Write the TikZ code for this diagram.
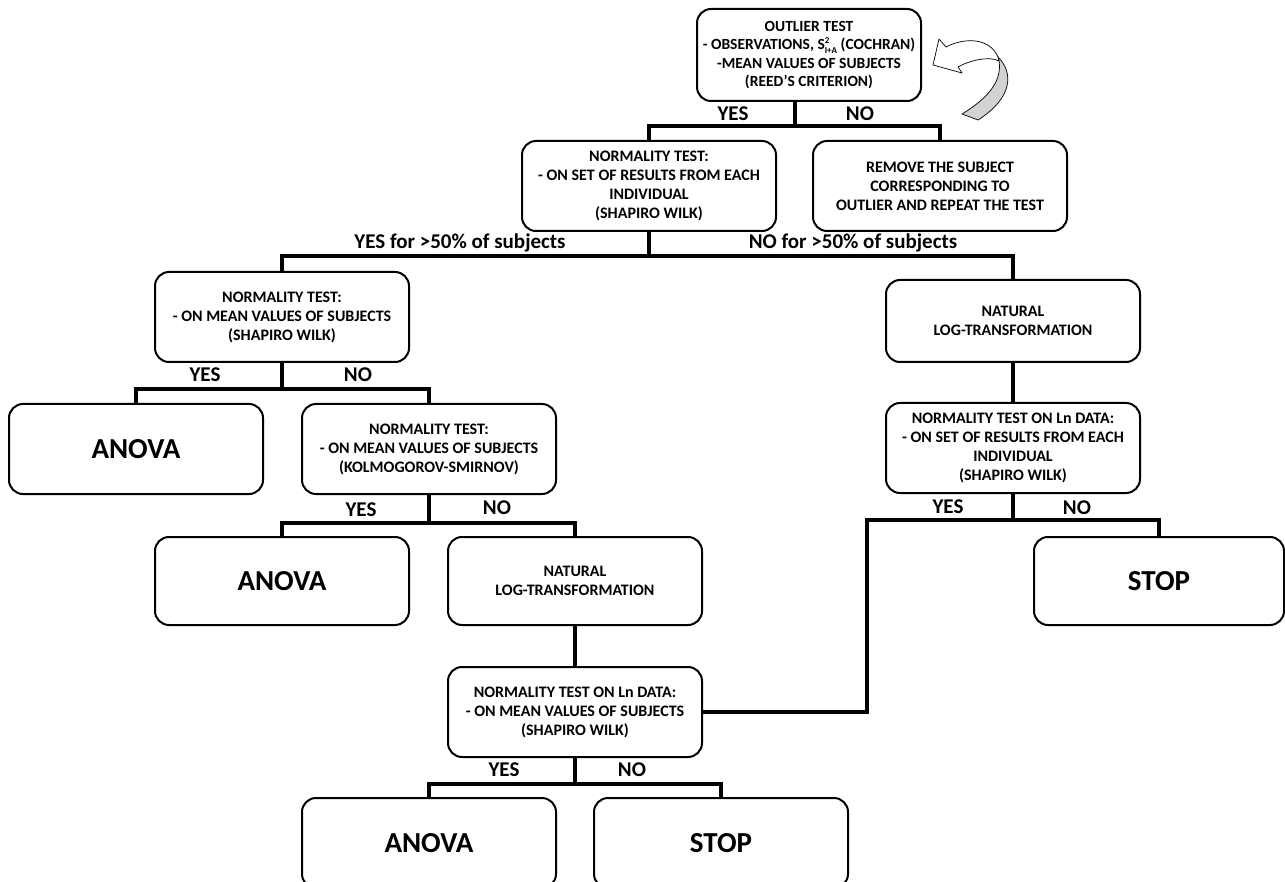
\documentclass[tikz,border=0pt]{standalone}
\usepackage{fontspec}
\setmainfont{Carlito}
\begin{document}
\begin{tikzpicture}[x=1pt,y=-1pt,
  box/.style={draw, line width=2pt, rounded corners=14pt, minimum width=254pt, minimum height=90pt,
    align=center, inner sep=2pt, font=\fontsize{16}{19}\selectfont\bfseries},
  bigbox/.style={box, font=\fontsize{29}{31}\selectfont\bfseries},
  lab/.style={anchor=base, inner sep=0pt, font=\fontsize{21}{24}\selectfont\bfseries},
  conn/.style={line width=4pt}]
\useasboundingbox (0,0) rectangle (1285,882);
\clip (0,0) rectangle (1285,882);

% nodes
\node[box, minimum width=224pt, minimum height=92pt, font=\fontsize{15.5}{18.5}\selectfont\bfseries] (b1) at (809,55)
  {OUTLIER TEST\\- OBSERVATIONS, S\rlap{\raisebox{0.42em}{\fontsize{9}{9}\selectfont 2}}\raisebox{-0.25em}{\fontsize{9}{9}\selectfont I+A} (COCHRAN)\\-MEAN VALUES OF SUBJECTS\\(REED’S CRITERION)};
\node[box] (b2) at (649,186) {NORMALITY TEST:\\- ON SET OF RESULTS FROM EACH\\INDIVIDUAL\\(SHAPIRO WILK)};
\node[box] (b3) at (940,186) {REMOVE THE SUBJECT\\CORRESPONDING TO\\OUTLIER AND REPEAT THE TEST};
\node[box] (b4) at (282,317) {NORMALITY TEST:\\- ON MEAN VALUES OF SUBJECTS\\(SHAPIRO WILK)};
\node[box, minimum height=82pt] (n1) at (1013,321) {NATURAL\\LOG-TRANSFORMATION};
\node[bigbox] (a1) at (136,449) {ANOVA};
\node[box] (ks) at (429,449) {NORMALITY TEST:\\- ON MEAN VALUES OF SUBJECTS\\(KOLMOGOROV-SMIRNOV)};
\node[box] (lnR) at (1013,448) {NORMALITY TEST ON Ln DATA:\\- ON SET OF RESULTS FROM EACH\\INDIVIDUAL\\(SHAPIRO WILK)};
\node[bigbox, minimum height=88pt] (a2) at (282,581) {ANOVA};
\node[box, minimum height=88pt] (n2) at (575,581) {NATURAL\\LOG-TRANSFORMATION};
\node[bigbox, minimum width=250pt, minimum height=88pt] (sR) at (1159,581) {STOP};
\node[box] (b9) at (575,712) {NORMALITY TEST ON Ln DATA:\\- ON MEAN VALUES OF SUBJECTS\\(SHAPIRO WILK)};
\node[bigbox] (a3) at (429,843) {ANOVA};
\node[bigbox] (s3) at (721,843) {STOP};
\coordinate (cR) at (867,712);

% connectors
\draw[conn] ([xshift=-14pt]b1.south) -- ++(0,24) -| (b2.north);
\draw[conn] ([xshift=-14pt]b1.south) -- ++(0,24) -| (b3.north);
\draw[conn] (b2.south) -- ++(0,24) -| (b4.north);
\draw[conn] (b2.south) -- ++(0,24) -| (n1.north);
\draw[conn] (b4.south) -- ++(0,26) -| (a1.north);
\draw[conn] (b4.south) -- ++(0,26) -| (ks.north);
\draw[conn] (n1.south) -- (lnR.north);
\draw[conn] (ks.south) -- ++(0,28) -| (a2.north);
\draw[conn] (ks.south) -- ++(0,28) -| (n2.north);
\draw[conn] (lnR.south) -- ++(0,26) -| (sR.north);
\draw[conn] (lnR.south) -- ++(0,26) -| (cR) -- (b9.east);
\draw[conn] (n2.south) -- (b9.north);
\draw[conn] (b9.south) -- ++(0,26) -| (a3.north);
\draw[conn] (b9.south) -- ++(0,26) -| (s3.north);

% labels
\node[lab] (l1) at (733,121) {YES};
\node[lab] (l2) at (860,121) {NO};
\node[lab] (l3) at (460,249) {YES for >50\% of subjects};
\node[lab] (l4) at (853,249) {NO for >50\% of subjects};
\node[lab] (l5) at (205,382) {YES};
\node[lab] (l6) at (358,382) {NO};
\node[lab] (l7) at (361,516) {YES};
\node[lab] (l8) at (497,514) {NO};
\node[lab] (l9) at (948,513) {YES};
\node[lab] (l10) at (1077,514) {NO};
\node[lab] (l11) at (504,776) {YES};
\node[lab] (l12) at (632,776) {NO};

% curved ribbon arrow
\draw[line width=0.7pt, fill=gray!35] (998,57) .. controls (1013,72) and (1014,97) .. (978,120)
  -- (962,114) .. controls (990,97) and (1002,80) .. (999,61) -- cycle;
\draw[line width=0.7pt, fill=white, line join=round] (946,47) -- (939,39) -- (933,65) -- (962,73) -- (958,67)
  .. controls (970,60) and (990,56) .. (999,61)
  -- (998,57) .. controls (990,38) and (965,37) .. cycle;
\end{tikzpicture}
\end{document}
